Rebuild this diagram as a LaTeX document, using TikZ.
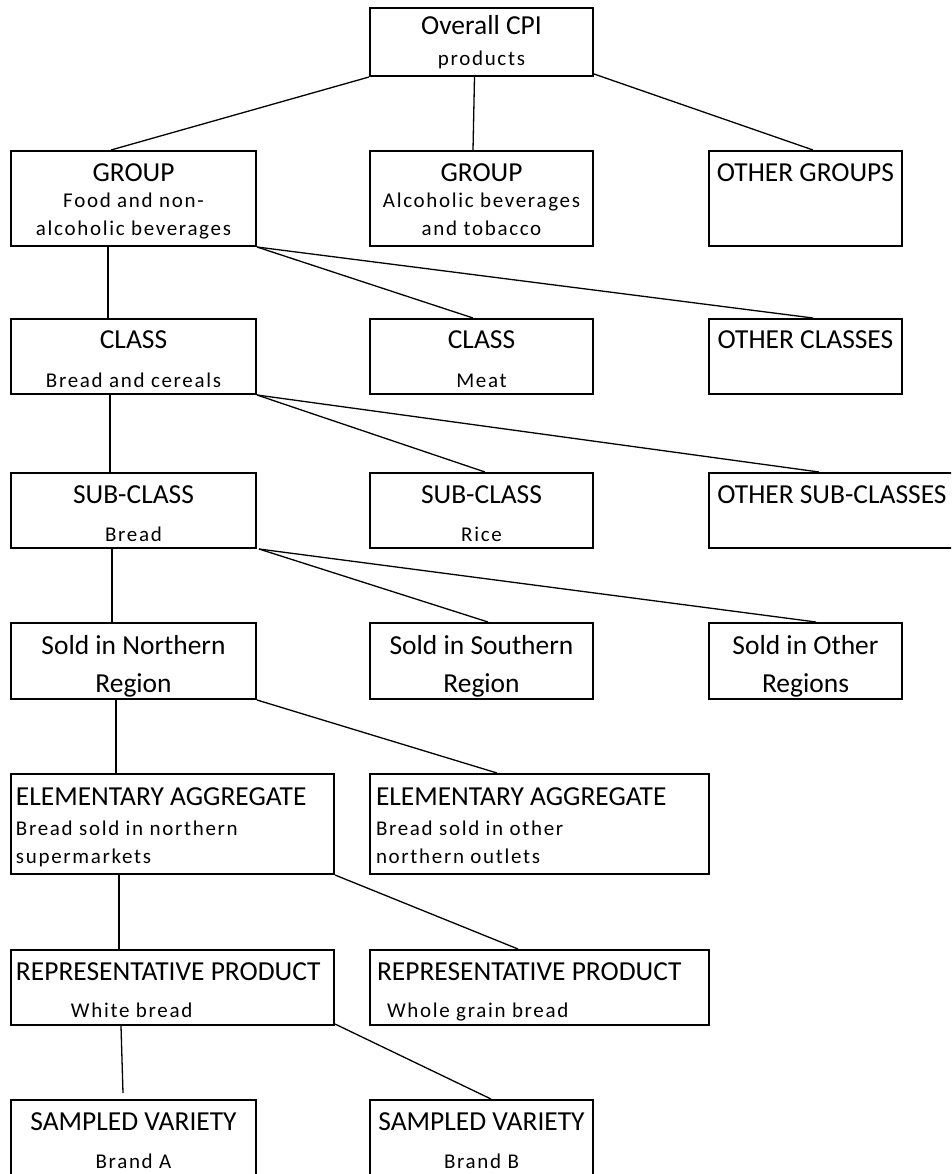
\documentclass[tikz,border=0pt]{standalone}
\usepackage{fontspec}
\setmainfont{Carlito}
\newfontfamily\subfam[LetterSpace=8]{Carlito}
\usepackage{tikz}

\newlength{\pxu}
\setlength{\pxu}{0.75pt}
\newcommand{\ttl}{\fontsize{20.6pt}{28.5pt}\selectfont}
\newcommand{\sbt}{\subfam\fontsize{15.75pt}{21pt}\selectfont}
\newcommand{\hdstrut}[1]{\rule{0pt}{#1\pxu}}
% box text: width, height, contents (top aligned)
\newcommand{\boxtxt}[3]{\parbox[t][#2\pxu][t]{#1\pxu}{#3}}

\begin{document}
\begin{tikzpicture}[x=\pxu, y=-\pxu,
		lvl/.style={draw=black, line width=2\pxu, inner sep=0pt},
		link/.style={draw=black, line width=1.3\pxu}]
		\useasboundingbox (0,0) rectangle (951,1174);
		\clip (0,0) rectangle (951,1174);
		% top
		\node [lvl] (cpi) at (481.5,42) {\boxtxt{223}{68}{\centering\ttl\hdstrut{26}Overall CPI\\[3\pxu]\sbt products}};
		% groups
		\node [lvl] (grp1) at (133.5,198.5) {\boxtxt{245}{95}{\centering\ttl\hdstrut{30}GROUP\\[-2\pxu]\sbt Food and non-\\alcoholic beverages}};
		\node [lvl] (grp2) at (481.5,198.5) {\boxtxt{223}{95}{\centering\ttl\hdstrut{30}GROUP\\[-2\pxu]\sbt Alcoholic beverages\\and tobacco}};
		\node [lvl] (grp3) at (805.5,198.5) {\boxtxt{193}{95}{\centering\ttl\hdstrut{30}OTHER GROUPS}};
		% classes
		\node [lvl] (cls1) at (133.5,356.5) {\boxtxt{245}{75}{\centering\ttl\hdstrut{29}CLASS\\[11\pxu]\sbt Bread and cereals}};
		\node [lvl] (cls2) at (481.5,356.5) {\boxtxt{223}{75}{\centering\ttl\hdstrut{29}CLASS\\[11\pxu]\sbt Meat}};
		\node [lvl] (cls3) at (805.5,356.5) {\boxtxt{193}{75}{\centering\ttl\hdstrut{29}OTHER CLASSES}};
		% sub-classes
		\node [lvl] (sub1) at (133.5,510.5) {\boxtxt{245}{75}{\centering\ttl\hdstrut{30}SUB-CLASS\\[10\pxu]\sbt Bread}};
		\node [lvl] (sub2) at (481.5,510.5) {\boxtxt{223}{75}{\centering\ttl\hdstrut{30}SUB-CLASS\\[10\pxu]\sbt Rice}};
		\node [lvl] (sub3) at (832,510.5) {\boxtxt{246}{75}{\centering\ttl\hdstrut{30}OTHER SUB-CLASSES}};
		% regions
		\node [lvl] (reg1) at (133.5,661) {\boxtxt{245}{76}{\centering\ttl\hdstrut{31}Sold in Northern\\Region}};
		\node [lvl] (reg2) at (481.5,661) {\boxtxt{223}{76}{\centering\ttl\hdstrut{31}Sold in Southern\\Region}};
		\node [lvl] (reg3) at (805.5,661) {\boxtxt{193}{76}{\centering\ttl\hdstrut{31}Sold in Other\\Regions}};
		% elementary aggregates
		\node [lvl] (agg1) at (172.5,824) {\boxtxt{323}{100}{\raggedright\ttl\hdstrut{31}\hspace*{5\pxu}ELEMENTARY AGGREGATE\\[2\pxu]\sbt\hspace*{5\pxu}Bread sold in northern\\\hspace*{5\pxu}supermarkets}};
		\node [lvl] (agg2) at (539.5,824) {\boxtxt{339}{100}{\raggedright\ttl\hdstrut{31}\hspace*{6\pxu}ELEMENTARY AGGREGATE\\[2\pxu]\sbt\hspace*{6\pxu}Bread sold in other\\\hspace*{6\pxu}northern outlets}};
		% representative products
		\node [lvl] (rep1) at (172.5,987.5) {\boxtxt{323}{75}{\raggedright\ttl\hdstrut{30}\hspace*{5\pxu}\mbox{REPRESENTATIVE PRODUCT}\\[9\pxu]\sbt\hspace*{60\pxu}White bread}};
		\node [lvl] (rep2) at (539.5,987.5) {\boxtxt{339}{75}{\raggedright\ttl\hdstrut{30}\hspace*{7\pxu}\mbox{REPRESENTATIVE PRODUCT}\\[9\pxu]\sbt\hspace*{17\pxu}Whole grain bread}};
		% sampled varieties
		\node [lvl] (var1) at (133.5,1145) {\boxtxt{245}{90}{\centering\ttl\hdstrut{30}SAMPLED VARIETY\\[10\pxu]\sbt Brand A}};
		\node [lvl] (var2) at (481.5,1145) {\boxtxt{223}{90}{\centering\ttl\hdstrut{30}SAMPLED VARIETY\\[10\pxu]\sbt Brand B}};
		% connectors
		\draw [link] (cpi.south west) -- ([xshift=-22.5\pxu]grp1.north);
		\draw [link] ([xshift=-7\pxu]cpi.south) -- ([xshift=-8.5\pxu]grp2.north);
		\draw [link] ([yshift=3\pxu]cpi.south east) -- ([xshift=7.5\pxu]grp3.north);
		\draw [link] ([xshift=-25.5\pxu]grp1.south) -- ([xshift=-25.5\pxu]cls1.north);
		\draw [link] (grp1.south east) -- ([xshift=-8.5\pxu]cls2.north);
		\draw [link] (grp1.south east) -- ([xshift=7.5\pxu]cls3.north);
		\draw [link] ([xshift=-23.5\pxu]cls1.south) -- ([xshift=-23.5\pxu]sub1.north);
		\draw [link] (cls1.south east) -- ([xshift=3.5\pxu]sub2.north);
		\draw [link] (cls1.south east) -- ([xshift=-13\pxu]sub3.north);
		\draw [link] ([xshift=-21.5\pxu]sub1.south) -- ([xshift=-21.5\pxu]reg1.north);
		\draw [link] ([xshift=2\pxu]sub1.south east) -- ([xshift=6.5\pxu]reg2.north);
		\draw [link] ([xshift=2\pxu]sub1.south east) -- ([xshift=10.5\pxu]reg3.north);
		\draw [link] ([xshift=-17.5\pxu]reg1.south) -- ([xshift=-56.5\pxu]agg1.north);
		\draw [link] (reg1.south east) -- ([xshift=-42.5\pxu]agg2.north);
		\draw [link] ([xshift=-53.5\pxu]agg1.south) -- ([xshift=-53.5\pxu]rep1.north);
		\draw [link] (agg1.south east) -- ([xshift=-21.5\pxu]rep2.north);
		\draw [link] ([xshift=-51.5\pxu]rep1.south) -- ([xshift=-10.5\pxu, yshift=6\pxu]var1.north);
		\draw [link] ([yshift=2\pxu]rep1.south east) -- ([xshift=9.5\pxu]var2.north);
\end{tikzpicture}
\end{document}
